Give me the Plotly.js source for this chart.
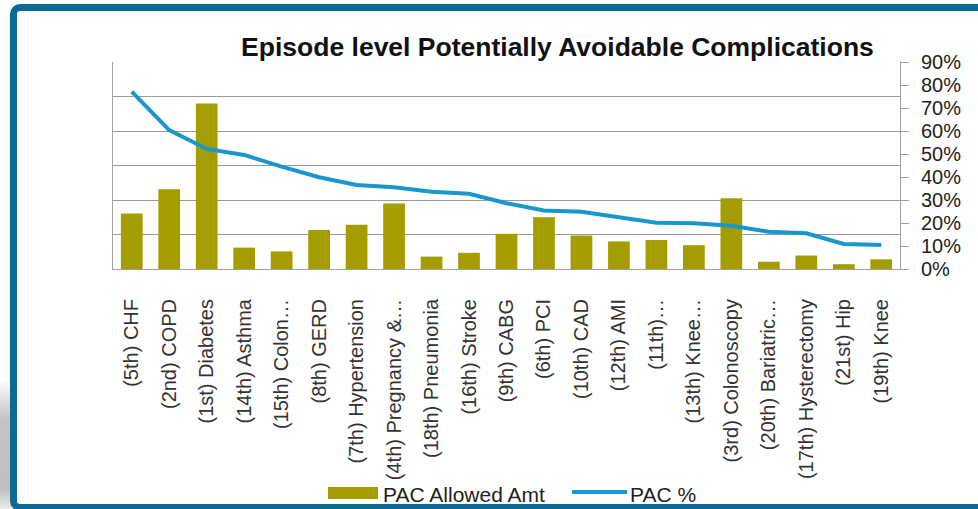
<!DOCTYPE html>
<html>
<head>
<meta charset="utf-8">
<script src="https://cdn.plot.ly/plotly-3.0.1.min.js"></script>
<style>
  html, body { margin: 0; padding: 0; background: #ffffff; overflow: hidden; }
  #wrap { position: relative; width: 978px; height: 509px; overflow: hidden; }
  #shadow { position: absolute; left: 0; top: 380px; width: 14px; height: 129px;
            background: linear-gradient(to bottom, rgba(190,190,190,0), #c4c4c4 30%, #c0c0c0 85%, rgba(190,190,190,0.3)); }
  #frame { position: absolute; left: 10px; top: 4px; width: 1000px; height: 507px;
           box-sizing: border-box; border: 7px solid #0b6a96; border-radius: 10px; background: #ffffff; }
  #chart { position: absolute; left: 0; top: 0; width: 978px; height: 509px; }
</style>
</head>
<body>
<div id="wrap">
  <div id="shadow"></div>
  <div id="frame"></div>
  <div id="chart"></div>
</div>
<script>
// Episodes, ordered by PAC % (rank by allowed amount in brackets)
const episodes = [
  "(5th) CHF", "(2nd) COPD", "(1st) Diabetes", "(14th) Asthma", "(15th) Colon…",
  "(8th) GERD", "(7th) Hypertension", "(4th) Pregnancy &…", "(18th) Pneumonia",
  "(16th) Stroke", "(9th) CABG", "(6th) PCI", "(10th) CAD", "(12th) AMI",
  "(11th)…", "(13th) Knee…", "(3rd) Colonoscopy", "(20th) Bariatric…",
  "(17th) Hysterectomy", "(21st) Hip", "(19th) Knee"
];

// PAC allowed amount per episode (left axis, $M)
const pacAllowedAmt = [
  1.61, 2.31, 4.80, 0.62, 0.51,
  1.13, 1.28, 1.90, 0.36,
  0.47, 1.02, 1.50, 0.97, 0.80,
  0.84, 0.69, 2.05, 0.21,
  0.39, 0.14, 0.28
];

// PAC share of episode cost (right axis)
const pacPct = [
  0.771, 0.604, 0.522, 0.496, 0.445,
  0.399, 0.365, 0.355, 0.336,
  0.327, 0.286, 0.254, 0.249, 0.227,
  0.201, 0.199, 0.188, 0.162,
  0.155, 0.109, 0.104
];

const seriesNames = ["PAC Allowed Amt", "PAC %"];
const barColor = "#a39d00";
const lineColor = "#1a96cf";
const font = "Liberation Sans, Arial, sans-serif";

const traces = [
  {
    type: "bar", name: seriesNames[0], x: episodes, y: pacAllowedAmt,
    marker: { color: barColor }, yaxis: "y", hoverinfo: "skip"
  },
  {
    type: "scatter", mode: "lines", name: seriesNames[1], x: episodes, y: pacPct,
    line: { color: lineColor, width: 4 }, yaxis: "y2", hoverinfo: "skip"
  }
];

// plot-area helpers for the hand-drawn legend below the category labels
const plotL = 113, plotR = 900, plotT = 62, plotB = 269;
const px = v => (v - plotL) / (plotR - plotL);
const py = v => (plotB - v) / (plotB - plotT);

const layout = {
  width: 978, height: 509,
  margin: { l: plotL, r: 978 - plotR, t: plotT, b: 509 - plotB, pad: 0 },
  paper_bgcolor: "rgba(0,0,0,0)",
  plot_bgcolor: "rgba(0,0,0,0)",
  font: { family: font, color: "#222" },
  showlegend: false,
  bargap: 0.42,
  title: {
    text: "<b>Episode level Potentially Avoidable Complications</b>",
    font: { family: font, size: 26.5, color: "#111" },
    xref: "container", x: 0.57, xanchor: "center",
    yref: "container", y: 1 - 47 / 509, yanchor: "middle"
  },
  xaxis: {
    type: "category", tickangle: -90,
    tickfont: { family: font, size: 20, color: "#333" },
    showline: true, linecolor: "#a0a0a0", linewidth: 1,
    ticks: "", ticklabelstandoff: 21, showgrid: false, fixedrange: true
  },
  yaxis: {
    range: [0, 6], dtick: 1, showgrid: true, gridcolor: "#9a9a9a", gridwidth: 1,
    showticklabels: false, showline: true, linecolor: "#a0a0a0",
    zeroline: false, ticks: "", fixedrange: true
  },
  yaxis2: {
    overlaying: "y", side: "right", range: [0, 0.9], dtick: 0.1, tick0: 0,
    tickformat: ".0%", ticks: "outside", ticklen: 8, tickcolor: "#a0a0a0",
    showline: true, linecolor: "#a0a0a0", showgrid: false, zeroline: false,
    tickfont: { family: font, size: 20, color: "#222" }, ticklabelstandoff: 8,
    fixedrange: true
  },
  shapes: [
    { type: "rect", xref: "paper", yref: "paper",
      x0: px(328), x1: px(378), y0: py(499), y1: py(487),
      fillcolor: barColor, line: { width: 0 } },
    { type: "line", xref: "paper", yref: "paper",
      x0: px(572), x1: px(627), y0: py(492), y1: py(492),
      line: { color: lineColor, width: 4 } }
  ],
  annotations: [
    { xref: "paper", yref: "paper", x: px(381), y: py(494), xanchor: "left", yanchor: "middle",
      text: seriesNames[0], showarrow: false, font: { family: font, size: 21, color: "#222" } },
    { xref: "paper", yref: "paper", x: px(628), y: py(494), xanchor: "left", yanchor: "middle",
      text: seriesNames[1], showarrow: false, font: { family: font, size: 21, color: "#222" } }
  ]
};

Plotly.newPlot("chart", traces, layout, { staticPlot: true, displayModeBar: false });
</script>
</body>
</html>
